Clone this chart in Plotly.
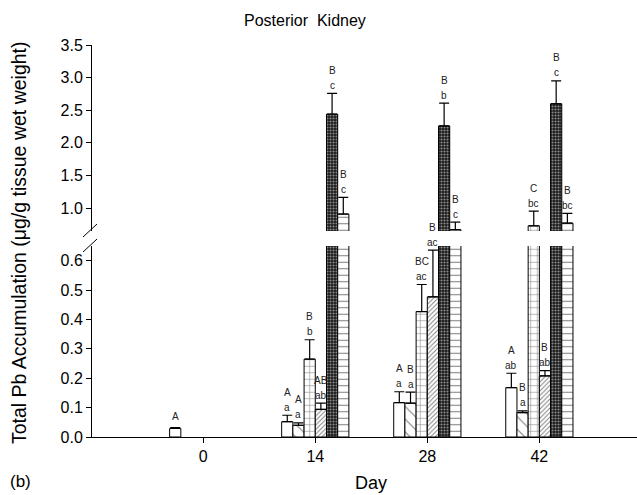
import plotly.graph_objects as go

days = [0, 14, 28, 42]
tick_days = [0, 14, 28, 42]

# series values (µg/g tissue wet weight) and error bars
open_vals = [0.029, 0.052, 0.117, 0.168]
open_err = [0.003, 0.022, 0.037, 0.049]
back_vals = [None, 0.040, 0.115, 0.083]
back_err = [None, 0.008, 0.038, 0.006]
grid_vals = [None, 0.265, 0.427, 0.73]
grid_err = [None, 0.066, 0.092, 0.224]
diag_vals = [None, 0.094, 0.477, 0.208]
diag_err = [None, 0.021, 0.159, 0.018]
dark_vals = [None, 2.44, 2.26, 2.60]
dark_err = [None, 0.32, 0.35, 0.35]
horiz_vals = [None, 0.91, 0.67, 0.77]
horiz_err = [None, 0.255, 0.115, 0.15]

# significance letters (upper, lower)
open_up = ["A", "A", "A", "A"]
open_lo = ["", "a", "a", "ab"]
back_up = ["", "A", "B", "B"]
back_lo = ["", "a", "a", "a"]
grid_up = ["", "B", "BC", "C"]
grid_lo = ["", "b", "ac", "bc"]
diag_up = ["", "AB", "B", "B"]
diag_lo = ["", "ab", "ac", "ab"]
dark_up = ["", "B", "B", "B"]
dark_lo = ["", "c", "b", "c"]
horiz_up = ["", "B", "B", "B"]
horiz_lo = ["", "c", "c", "bc"]

lower_ticks = [0.0, 0.1, 0.2, 0.3, 0.4, 0.5, 0.6]
upper_ticks = [1.0, 1.5, 2.0, 2.5, 3.0, 3.5]
LOW_MAX = 0.65
UP_MIN = 0.65
UP_MAX = 3.5

series = [
    (open_vals, open_err, open_up, open_lo, dict(color="white")),
    (back_vals, back_err, back_up, back_lo,
     dict(color="white", pattern=dict(shape="\\", size=9, solidity=0.12, fgcolor="black", bgcolor="white"))),
    (grid_vals, grid_err, grid_up, grid_lo,
     dict(color="white", pattern=dict(shape="+", size=6.5, solidity=0.16, fgcolor="black", bgcolor="white"))),
    (diag_vals, diag_err, diag_up, diag_lo,
     dict(color="white", pattern=dict(shape="/", size=3.2, solidity=0.3, fgcolor="black", bgcolor="white"))),
    (dark_vals, dark_err, dark_up, dark_lo,
     dict(color="#222", pattern=dict(shape=".", size=3, solidity=0.4, fgcolor="white", bgcolor="#1a1a1a"))),
    (horiz_vals, horiz_err, horiz_up, horiz_lo,
     dict(color="white", pattern=dict(shape="-", size=6.5, solidity=0.16, fgcolor="black", bgcolor="white"))),
]

FONT = "Arial, Liberation Sans, sans-serif"
fig = go.Figure()

for k, (vals, err, up, lo, mk) in enumerate(series):
    for xa, ya in (("x", "y"), ("x2", "y2")):
        fig.add_trace(go.Bar(
            x=days, y=vals, xaxis=xa, yaxis=ya,
            marker=dict(line=dict(color="black", width=1), **mk),
            error_y=dict(type="data", array=err, arrayminus=[0] * len(err), symmetric=False,
                         color="black", thickness=1.2, width=5),
            offsetgroup=str(k), showlegend=False,
        ))

fig.update_layout(barmode="group", bargap=0.4, bargroupgap=0.0)

# annotation letters
nser = len(series)
group_w = 14 * (1 - 0.4)
bw = group_w / nser
anns = []
for k, (vals, err, up, lo, mk) in enumerate(series):
    for i, d in enumerate(days):
        if vals[i] is None:
            continue
        top = vals[i] + (err[i] or 0)
        yref = "y2" if top > LOW_MAX else "y"
        xc = d + (k - (nser - 1) / 2) * bw
        if lo[i]:
            anns.append(dict(x=xc, y=top, xref="x", yref=yref, text=lo[i], showarrow=False,
                             yanchor="middle", yshift=8, font=dict(size=10, color="#222", family=FONT)))
            anns.append(dict(x=xc, y=top, xref="x", yref=yref, text=up[i], showarrow=False,
                             yanchor="middle", yshift=23, font=dict(size=10, color="#222", family=FONT)))
        else:
            anns.append(dict(x=xc, y=top, xref="x", yref=yref, text=up[i], showarrow=False,
                             yanchor="middle", yshift=11, font=dict(size=10, color="#222", family=FONT)))

# plot frame geometry (pixels)
T, B, L = 45, 58, 92
H = 495 - T - B
W = 637 - L
def py(p):
    return (495 - B - p) / H
def px(p):
    return (p - L) / W

low_dom = [0, py(246)]
up_dom = [py(231), 1]

anns += [
    dict(text="Total Pb Accumulation (μg/g tissue wet weight)", textangle=-90, xref="paper", yref="paper",
         x=px(19), y=py(243), xanchor="center", yanchor="middle", showarrow=False,
         font=dict(size=19.5, family=FONT, color="black")),
    dict(text="Day", xref="paper", yref="paper", x=px(371), y=py(483), xanchor="center", yanchor="middle",
         showarrow=False, font=dict(size=18, family=FONT, color="black")),
    dict(text="(b)", xref="paper", yref="paper", x=px(20), y=py(481), xanchor="center", yanchor="middle",
         showarrow=False, font=dict(size=17, family=FONT, color="black")),
    dict(text="Posterior  Kidney", xref="paper", yref="paper", x=px(305), y=py(20), xanchor="center",
         yanchor="middle", showarrow=False, font=dict(size=16, family=FONT, color="black")),
]

shapes = [
    dict(type="line", xref="paper", yref="paper", x0=px(83), y0=py(237), x1=px(97), y1=py(224),
         line=dict(color="black", width=1)),
    dict(type="line", xref="paper", yref="paper", x0=px(83), y0=py(252), x1=px(97), y1=py(239),
         line=dict(color="black", width=1)),
]

axis_common = dict(showline=True, linecolor="black", linewidth=1, ticks="outside", ticklen=5,
                   tickcolor="black", showgrid=False, zeroline=False,
                   tickfont=dict(size=16, family=FONT, color="black"))

fig.update_layout(
    width=637, height=495,
    margin=dict(l=L, r=0, t=T, b=B),
    plot_bgcolor="white", paper_bgcolor="white",
    xaxis=dict(range=[-13.9, 54.2], tickvals=tick_days, ticktext=[str(t) for t in tick_days],
               anchor="y", **axis_common),
    xaxis2=dict(range=[-13.9, 54.2], anchor="y2", matches="x", visible=False),
    yaxis=dict(domain=low_dom, range=[0, LOW_MAX], tickvals=lower_ticks,
               ticktext=[f"{v:.1f}" for v in lower_ticks], anchor="x", **axis_common),
    yaxis2=dict(domain=up_dom, range=[UP_MIN, UP_MAX], tickvals=upper_ticks,
                ticktext=[f"{v:.1f}" for v in upper_ticks], anchor="x2", **axis_common),
    annotations=anns, shapes=shapes,
)

fig.write_html("out.html")
